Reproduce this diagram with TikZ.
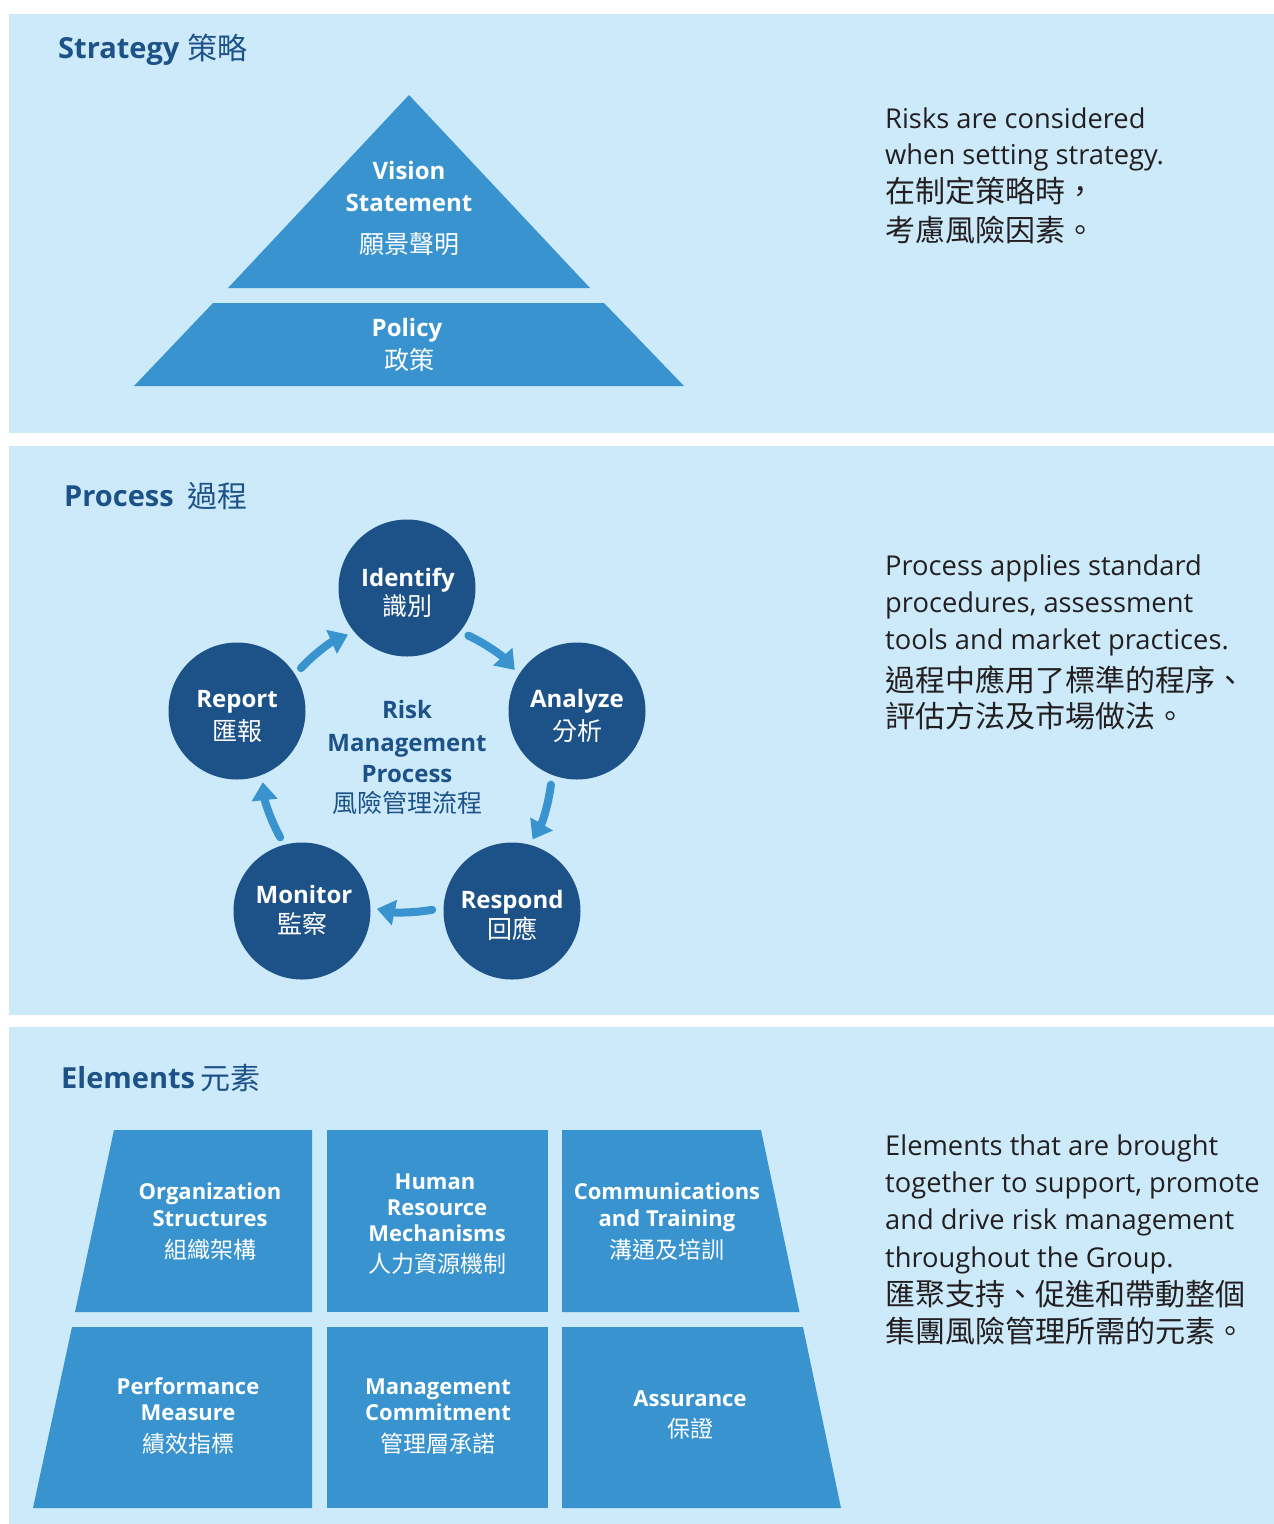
\documentclass[tikz,border=0pt]{standalone}
\usepackage{fontspec}
\setmainfont{Open Sans}
\newfontfamily\cjk{Noto Sans CJK TC}
\usetikzlibrary{arrows.meta,calc}
\definecolor{bgblue}{HTML}{CCEAFA}
\definecolor{midblue}{HTML}{3893CF}
\definecolor{darkblue}{HTML}{1D5288}
\definecolor{bodytext}{HTML}{231F20}
\tikzset{
  panel/.style={fill=bgblue, draw=none},
  shapefill/.style={fill=midblue, draw=none},
  titletxt/.style={anchor=base west, inner sep=0, text=darkblue, font=\bfseries\fontsize{29}{35}\selectfont},
  titlecjk/.style={anchor=base west, inner sep=0, text=darkblue, font=\cjk\fontsize{30}{36}\selectfont},
  bodyline/.style={anchor=base west, inner sep=0, text=bodytext, font=\fontsize{27.3}{33}\selectfont},
  bodycjk/.style={anchor=base west, inner sep=0, text=bodytext, font=\cjk\fontsize{30}{36}\selectfont},
  whiteen/.style={anchor=base, inner sep=0, text=white, font=\bfseries\fontsize{24}{29}\selectfont},
  whitecjk/.style={anchor=base, inner sep=0, text=white, font=\cjk\fontsize{25}{30}\selectfont},
  tileen/.style={anchor=base, inner sep=0, text=white, font=\bfseries\fontsize{22}{26}\selectfont},
  tilecjk/.style={anchor=base, inner sep=0, text=white, font=\cjk\fontsize{23}{27}\selectfont},
  darken/.style={anchor=base, inner sep=0, text=darkblue, font=\bfseries\fontsize{24}{29}\selectfont},
  darkcjk/.style={anchor=base, inner sep=0, text=darkblue, font=\cjk\fontsize{25}{30}\selectfont},
  stagecirc/.style={circle, fill=darkblue, draw=none, minimum size=137pt, inner sep=0},
  cyclearrow/.style={draw=midblue, line width=8pt, line cap=round, -{Triangle[width=25pt,length=18pt]}},
}
\begin{document}
\begin{tikzpicture}[x=1pt,y=-1pt]
\useasboundingbox (0,0) rectangle (1274,1524);
\fill[white] (0,0) rectangle (1274,1524);

% ---------- panels
\path[panel] (9,14) rectangle (1274,432.5);
\path[panel] (9,446) rectangle (1274,1014.5);
\path[panel] (9,1027) rectangle (1274,1524);

% ---------- Strategy
\node[titletxt] (t1) at (58,58) {Strategy};
\node[titlecjk] (t1c) at (187,59) {策略};

\path[shapefill] (409,95) -- (590,288) -- (228,288) -- cycle;
\path[shapefill] (213,303) -- (604,303) -- (684,386) -- (134,386) -- cycle;

\node[whiteen] (vis1) at (409,179) {Vision};
\node[whiteen] (vis2) at (409,211) {Statement};
\node[whitecjk] (vis3) at (409,253) {願景聲明};
\node[whiteen] (pol1) at (407,336) {Policy};
\node[whitecjk] (pol2) at (409,369) {政策};

\node[bodyline] (s1) at (885,128) {Risks are considered};
\node[bodyline] (s2) at (885,164) {when setting strategy.};
\node[bodycjk] (s3) at (885,202) {在制定策略時，};
\node[bodycjk] (s4) at (885,241) {考慮風險因素。};

% ---------- Process
\node[titletxt] (t2) at (64,506) {Process};
\node[titlecjk] (t2c) at (187,507) {過程};

\node[stagecirc] (identify) at (407,588) {};
\node[stagecirc] (analyze) at (577,711) {};
\node[stagecirc] (respond) at (512,911) {};
\node[stagecirc] (monitor) at (302,911) {};
\node[stagecirc] (report) at (237,711) {};

\node[whiteen] (idE) at (408,586) {Identify};
\node[whitecjk] (idC) at (407,615) {識別};
\node[whiteen] (anE) at (577,707) {Analyze};
\node[whitecjk] (anC) at (577,740) {分析};
\node[whiteen] (reE) at (512,908) {Respond};
\node[whitecjk] (reC) at (512,938) {回應};
\node[whiteen] (moE) at (304,903) {Monitor};
\node[whitecjk] (moC) at (302,933) {監察};
\node[whiteen] (rpE) at (237,707) {Report};
\node[whitecjk] (rpC) at (237,740) {匯報};

\node[darken] (rm1) at (407,718) {Risk};
\node[darken] (rm2) at (407,751) {Management};
\node[darken] (rm3) at (407,782) {Process};
\node[darkcjk] (rm4) at (407,812) {風險管理流程};

\coordinate (cc) at (407,767);
\coordinate (a1) at ($(cc)+(-137:145)$);
\draw[cyclearrow] (a1) arc[start angle=-137, end angle=-114, radius=145];
\coordinate (a2) at ($(cc)+(-65:145)$);
\draw[cyclearrow] (a2) arc[start angle=-65, end angle=-42, radius=145];
\coordinate (a3) at ($(cc)+(7:145)$);
\draw[cyclearrow] (a3) arc[start angle=7, end angle=30, radius=145];
\coordinate (a4) at ($(cc)+(80:145)$);
\draw[cyclearrow] (a4) arc[start angle=80, end angle=102, radius=145];
\coordinate (a5) at ($(cc)+(151:145)$);
\draw[cyclearrow] (a5) arc[start angle=151, end angle=174, radius=145];

\node[bodyline] (p1) at (885,575) {Process applies standard};
\node[bodyline] (p2) at (885,612) {procedures, assessment};
\node[bodyline] (p3) at (885,649) {tools and market practices.};
\node[bodycjk] (p4) at (885,691) {過程中應用了標準的程序、};
\node[bodycjk] (p5) at (885,727) {評估方法及市場做法。};

% ---------- Elements
\node[titletxt] (t3) at (61,1088) {Elements};
\node[titlecjk] (t3c) at (200,1089) {元素};

\path[shapefill] (114,1130) -- (312,1130) -- (312,1312) -- (75,1312) -- cycle;
\path[shapefill] (327,1130) rectangle (548,1312);
\path[shapefill] (562,1130) -- (761,1130) -- (799.5,1312) -- (562,1312) -- cycle;
\path[shapefill] (72,1327) -- (312,1327) -- (312,1508) -- (33,1508) -- cycle;
\path[shapefill] (327,1327) rectangle (548,1508);
\path[shapefill] (562,1327) -- (803,1327) -- (841,1508) -- (562,1508) -- cycle;

\node[tileen] (e1a) at (210,1199) {Organization};
\node[tileen] (e1b) at (210,1226) {Structures};
\node[tilecjk] (e1c) at (210,1258) {組織架構};
\node[tileen] (e2a) at (435,1189) {Human};
\node[tileen] (e2b) at (437,1215) {Resource};
\node[tileen] (e2c) at (437,1241) {Mechanisms};
\node[tilecjk] (e2d) at (437,1272) {人力資源機制};
\node[tileen] (e3a) at (667,1199) {Communications};
\node[tileen] (e3b) at (667,1226) {and Training};
\node[tilecjk] (e3c) at (667,1258) {溝通及培訓};
\node[tileen] (e4a) at (188,1394) {Performance};
\node[tileen] (e4b) at (188,1420) {Measure};
\node[tilecjk] (e4c) at (188,1452) {績效指標};
\node[tileen] (e5a) at (438,1394) {Management};
\node[tileen] (e5b) at (438,1420) {Commitment};
\node[tilecjk] (e5c) at (438,1452) {管理層承諾};
\node[tileen] (e6a) at (690,1406) {Assurance};
\node[tilecjk] (e6b) at (690,1437) {保證};

\node[bodyline] (q1) at (885,1155) {Elements that are brought};
\node[bodyline] (q2) at (885,1192) {together to support, promote};
\node[bodyline] (q3) at (885,1229) {and drive risk management};
\node[bodyline] (q4) at (885,1267) {throughout the Group.};
\node[bodycjk] (q5) at (885,1305) {匯聚支持、促進和帶動整個};
\node[bodycjk] (q6) at (885,1342) {集團風險管理所需的元素。};
\end{tikzpicture}
\end{document}
